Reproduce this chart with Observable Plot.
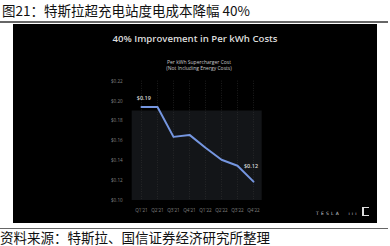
<!DOCTYPE html>
<html>
<head>
<meta charset="utf-8">
<script src="https://cdn.jsdelivr.net/npm/d3@7"></script>
<script src="https://cdn.jsdelivr.net/npm/@observablehq/plot@0.6"></script>
<style>
  html, body { margin: 0; padding: 0; background: #fff; width: 390px; height: 246px; overflow: hidden; }
  body { position: relative; font-family: "Noto Sans CJK SC", "Noto Sans", sans-serif; }
  #title { position: absolute; left: 2px; top: 0px; font-size: 13.5px; line-height: 20px; color: #111; white-space: nowrap; }
  .rule { position: absolute; left: 0; width: 388px; height: 1.5px; background: #666; }
  #panel { position: absolute; left: 13px; top: 24px; width: 364px; height: 199px; background: #000; overflow: hidden; }
  #ptitle { position: absolute; left: 0; width: 364px; top: 8px; text-align: center; font-family: "Open Sans", sans-serif; font-weight: 600; font-size: 9.6px; color: #dcdcdc; white-space: nowrap; }
  #psub { position: absolute; left: 4px; width: 364px; top: 35px; text-align: center; font-family: "Open Sans", sans-serif; font-size: 5px; line-height: 6.2px; color: #c8c8c8; }
  #logo { position: absolute; left: 303px; top: 187px; font-family: "DejaVu Sans", sans-serif; font-size: 4.5px; letter-spacing: 2.2px; color: #cfd3da; white-space: nowrap; }
  #icon { position: absolute; left: 349px; top: 183px; width: 7px; height: 9px; border-left: 2px solid #ddd; border-top: 1.5px solid #ddd; border-bottom: 1.5px solid #ddd; box-sizing: border-box; }
  #chart { position: absolute; left: 0; top: 0; }
  #caption { position: absolute; left: 0; top: 230px; font-size: 13.5px; line-height: 15px; color: #111; white-space: nowrap; }
</style>
</head>
<body>
<div id="title">图21：特斯拉超充电站度电成本降幅 40%</div>
<div class="rule" style="top:21px"></div>
<div id="panel">
  <div id="chart"></div>
  <div id="ptitle">40% Improvement in Per kWh Costs</div>
  <div id="psub">Per kWh Supercharger Cost<br>(Not Including Energy Costs)</div>
  <div id="logo">TESLA&nbsp;&nbsp;ııı</div>
  <div id="icon"></div>
</div>
<div class="rule" style="top:227.5px"></div>
<div id="caption">资料来源：特斯拉、国信证券经济研究所整理</div>
<script>
const quarters = ["Q1'21", "Q2'21", "Q3'21", "Q4'21", "Q1'22", "Q2'22", "Q3'22", "Q4'22"];
const costs = [0.194, 0.194, 0.164, 0.166, 0.153, 0.141, 0.135, 0.119];
const yTicks = [0.10, 0.12, 0.14, 0.16, 0.18, 0.20, 0.22];
const endLabels = ["$0.19", "$0.12"];

const data = quarters.map((q, i) => ({quarter: q, cost: costs[i]}));
const first = [{quarter: quarters[0], cost: costs[0], label: endLabels[0]}];
const last = [{quarter: quarters[quarters.length - 1], cost: costs[costs.length - 1], label: endLabels[1]}];

const chart = Plot.plot({
  width: 364,
  height: 199,
  marginLeft: 118.7,
  marginRight: 115.3,
  marginTop: 56.7,
  marginBottom: 23,
  style: {background: "#000", color: "#808080", fontFamily: "Open Sans, sans-serif", fontSize: "4.6px"},
  x: {type: "point", domain: quarters, padding: 0.38, label: null, tickSize: 0, tickPadding: 8},
  y: {domain: [0.10, 0.22], ticks: yTicks, tickFormat: d => "$" + d.toFixed(2), label: null, tickSize: 0, tickPadding: 9.5},
  marks: [
    Plot.rect([{}], {y1: 0.10, y2: 0.19, fill: "#131518"}),
    Plot.ruleX(quarters, {stroke: "#3a3a3a", strokeWidth: 0.6, strokeDasharray: "0.8,1.6"}),
    Plot.line(data, {x: "quarter", y: "cost", stroke: "#7596e0", strokeWidth: 2}),
    Plot.text(first, {x: "quarter", y: "cost", text: "label", textAnchor: "start", dx: -4.7, dy: -9, fill: "#d8d8d8", fontSize: 5.5, fontWeight: 600}),
    Plot.text(last, {x: "quarter", y: "cost", text: "label", dx: -2.5, dy: -15, fill: "#d8d8d8", fontSize: 5.5, fontWeight: 600})
  ]
});
document.getElementById("chart").appendChild(chart);
</script>
</body>
</html>
